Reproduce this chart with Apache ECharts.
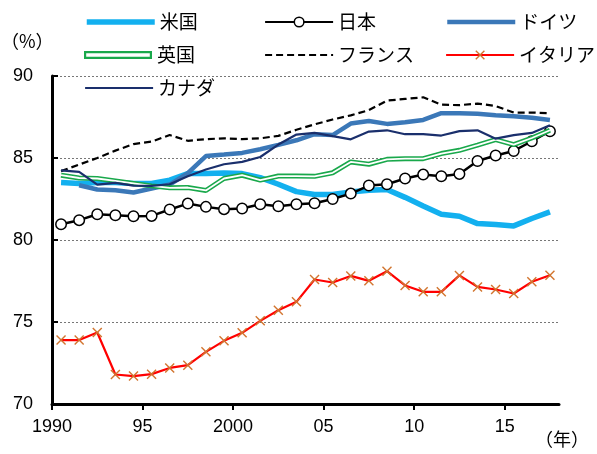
<!DOCTYPE html>
<html>
<head>
<meta charset="utf-8">
<script src="https://cdn.jsdelivr.net/npm/echarts@6/dist/echarts.min.js"></script>
<style>
  html, body { margin: 0; padding: 0; background: #fff; }
  #chart { width: 597px; height: 454px; }
</style>
</head>
<body>
<div id="chart"></div>
<script>
// Survey years (each value is plotted at mid-year)
const years = [1990, 1991, 1992, 1993, 1994, 1995, 1996, 1997, 1998, 1999,
               2000, 2001, 2002, 2003, 2004, 2005, 2006, 2007, 2008, 2009,
               2010, 2011, 2012, 2013, 2014, 2015, 2016, 2017];

// Ratio by country (%)
const usa = [83.5, 83.45, 83.5, 83.5, 83.45, 83.45, 83.65, 84.05, 84.05, 84.08,
             84.05, 83.8, 83.4, 82.95, 82.77, 82.77, 82.93, 83.04, 83.08, 82.6,
             82.08, 81.57, 81.45, 81.0, 80.94, 80.86, 81.31, 81.71];
const japan = [80.96, 81.21, 81.57, 81.51, 81.45, 81.47, 81.86, 82.22, 82.02, 81.88,
               81.92, 82.18, 82.06, 82.18, 82.24, 82.5, 82.83, 83.32, 83.4, 83.75,
               83.99, 83.89, 84.03, 84.82, 85.15, 85.43, 86.02, 86.63];
const germany = [null, 83.34, 83.08, 83.04, 82.9, 83.14, 83.38, 84.08, 85.12, 85.21,
                 85.31, 85.53, 85.8, 86.08, 86.45, 86.4, 87.1, 87.26, 87.08, 87.18,
                 87.32, 87.73, 87.73, 87.7, 87.6, 87.54, 87.46, 87.32];
const uk = [83.95, 83.78, 83.75, 83.6, 83.45, 83.3, 83.18, 83.2, 83.02, 83.75,
            83.95, 83.65, 83.9, 83.9, 83.88, 84.1, 84.76, 84.62, 84.92, 84.96,
            84.96, 85.27, 85.47, 85.78, 86.12, 85.82, 86.22, 86.69];
const france = [84.2, 84.6, 85.0, 85.45, 85.85, 86.0, 86.4, 86.05, 86.15, 86.2,
                86.15, 86.2, 86.35, 86.72, 87.05, 87.35, 87.6, 87.92, 88.5, 88.6,
                88.7, 88.25, 88.22, 88.32, 88.17, 87.77, 87.77, 87.73];
const italy = [73.9, 73.9, 74.36, 71.8, 71.7, 71.82, 72.2, 72.37, 73.18, 73.85,
               74.34, 75.07, 75.72, 76.23, 77.59, 77.41, 77.81, 77.51, 78.1, 77.23,
               76.84, 76.84, 77.84, 77.14, 76.98, 76.74, 77.45, 77.85];
const canada = [84.25, 84.15, 83.38, 83.48, 83.32, 83.3, 83.4, 83.89, 84.3, 84.62,
                84.76, 85.06, 85.82, 86.43, 86.53, 86.33, 86.14, 86.61, 86.69, 86.45,
                86.45, 86.37, 86.64, 86.69, 86.18, 86.39, 86.53, 87.0];

// Axis ticks
const xTickValues = [1990, 1995, 2000, 2005, 2010, 2015];
const xTickLabels = ['1990', '95', '2000', '05', '10', '15'];
const yMin = 70, yMax = 90, yStep = 5;

const numFont = '"Liberation Sans", Arial, sans-serif';
const jpFont = '"Noto Sans CJK JP", "Noto Sans", sans-serif';

function pairs(values) {
  const out = [];
  values.forEach((v, i) => { if (v !== null) out.push([years[i] + 0.5, v]); });
  return out;
}

const crossPath = 'path://M1,0L5,4L9,0L10,1L6,5L10,9L9,10L5,6L1,10L0,9L4,5L0,1Z';
const hollowBar = 'path://M0,0H68V8H0Z M2.2,2.2V5.8H65.8V2.2Z';

const C = {
  usa: '#13b0ef', germany: '#3b78b8', uk: '#19a84b', canada: '#1a2f6c',
  italyLine: '#ff0000', italyMark: '#d2752f'
};

function legendAt(name, left, centerY, extra) {
  return Object.assign({
    data: [name], left: left, top: centerY - 10, padding: 0,
    itemWidth: 68, itemHeight: 12, itemGap: 0, selectedMode: false,
    textStyle: { fontSize: 19, lineHeight: 20, color: '#000', fontFamily: jpFont }
  }, extra || {});
}

const option = {
  animation: false,
  backgroundColor: '#fff',
  grid: { left: 52, right: 38, top: 76, bottom: 50, containLabel: false },
  legend: [
    legendAt('米国', 84, 22, { itemStyle: { opacity: 0 }, lineStyle: { width: 5.5 } }),
    legendAt('英国', 84, 55, { icon: hollowBar, itemHeight: 8 }),
    legendAt('カナダ', 84, 88, { itemStyle: { opacity: 0 }, lineStyle: { width: 2.2 } }),
    legendAt('日本', 264, 22, { lineStyle: { width: 2.2 }, itemStyle: { borderWidth: 1.5 } }),
    legendAt('フランス', 264, 55, { itemStyle: { opacity: 0 }, lineStyle: { width: 2.2 } }),
    legendAt('ドイツ', 445, 22, { itemStyle: { opacity: 0 }, lineStyle: { width: 4.5 } }),
    legendAt('イタリア', 445, 55, { lineStyle: { width: 2.2 } })
  ],
  graphic: [
    { type: 'text', left: 1, top: 32,
      style: { text: '（%）', fontSize: 18, fill: '#000', fontFamily: jpFont } },
    { type: 'text', left: 535, top: 430,
      style: { text: '（年）', fontSize: 18, fill: '#000', fontFamily: jpFont } }
  ],
  xAxis: {
    type: 'value', min: 1990, max: 2018, interval: 5,
    axisLine: { show: true, onZero: false, lineStyle: { color: '#000', width: 3 } },
    axisTick: { show: true, inside: false, length: 6, customValues: xTickValues,
                lineStyle: { color: '#000', width: 2 } },
    axisLabel: {
      customValues: xTickValues, margin: 14,
      fontSize: 18, color: '#000', fontFamily: numFont,
      formatter: v => { const i = xTickValues.indexOf(v); return i >= 0 ? xTickLabels[i] : ''; }
    },
    splitLine: { show: false }
  },
  yAxis: {
    type: 'value', min: yMin, max: yMax, interval: yStep,
    axisLine: { show: true, lineStyle: { color: '#000', width: 3 } },
    axisTick: { show: true, inside: true, length: 6, lineStyle: { color: '#000', width: 2 } },
    axisLabel: { margin: 19, fontSize: 18, color: '#000', fontFamily: numFont },
    splitLine: { show: true, lineStyle: { color: '#555', width: 0.8, type: [2, 2] } }
  },
  series: [
    { name: '米国', type: 'line', z: 2, data: pairs(usa), symbol: 'none', color: C.usa,
      lineStyle: { color: C.usa, width: 5.5 } },
    { name: '日本', type: 'line', z: 3, data: pairs(japan), color: '#000',
      symbol: 'circle', symbolSize: 10.5,
      itemStyle: { color: '#fff', borderColor: '#000', borderWidth: 1.5 },
      lineStyle: { color: '#000', width: 2.5 } },
    { name: 'ドイツ', type: 'line', z: 4, data: pairs(germany), symbol: 'none', color: C.germany,
      lineStyle: { color: C.germany, width: 4.5 } },
    { name: '英国', type: 'line', z: 5, data: pairs(uk), symbol: 'none', color: C.uk,
      itemStyle: { color: C.uk },
      lineStyle: { color: C.uk, width: 5 } },
    { name: '英国 inner', type: 'line', z: 6, data: pairs(uk), symbol: 'none', color: '#fff',
      lineStyle: { color: '#fff', width: 1.8 } },
    { name: 'フランス', type: 'line', z: 7, data: pairs(france), symbol: 'none', color: '#000',
      lineStyle: { color: '#000', width: 2.2, type: [7, 4] } },
    { name: 'イタリア', type: 'line', z: 8, data: pairs(italy), color: C.italyLine,
      symbol: crossPath, symbolSize: 10,
      itemStyle: { color: C.italyMark },
      lineStyle: { color: C.italyLine, width: 2.2 } },
    { name: 'カナダ', type: 'line', z: 9, data: pairs(canada), symbol: 'none', color: C.canada,
      lineStyle: { color: C.canada, width: 2.2 } }
  ]
};

const chart = echarts.init(document.getElementById('chart'), null, { renderer: 'canvas' });
chart.setOption(option);
</script>
</body>
</html>
